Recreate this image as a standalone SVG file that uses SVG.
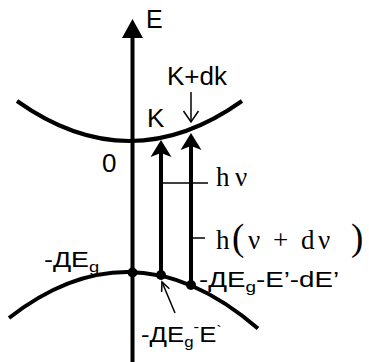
<svg xmlns="http://www.w3.org/2000/svg" width="369" height="362" viewBox="0 0 369 362">
<style>
.thick{fill:none;stroke:#000;stroke-width:4}
.thin{fill:none;stroke:#000;stroke-width:1.5}
.sans{font-family:"Liberation Sans",Arial,sans-serif;fill:#000}
.serif{font-family:"Liberation Serif","Times New Roman",serif;fill:#000}
</style>
<rect width="369" height="362" fill="#fff"/>
<g id="axis">
<line class="thick" x1="132.5" y1="36" x2="132.5" y2="362"/>
<polygon points="132.5,19 122,38 143,38" fill="#000"/>
<text class="sans" x="146" y="28" font-size="25">E</text>
</g>
<g id="conduction-band">
<path class="thick" d="M17,101 Q129.5,181 242,101"/>
</g>
<g id="valence-band">
<path class="thick" d="M9,318 Q133.5,221 258,328.6"/>
<circle cx="132.5" cy="272.5" r="5"/>
<circle cx="161" cy="275" r="5"/>
<circle cx="191" cy="285" r="5"/>
</g>
<g id="connectors">
<line class="thick" x1="161" y1="275" x2="161" y2="152"/>
<polygon points="161,140 150.5,157 161,153 171.5,157" fill="#000"/>
<line class="thick" x1="191" y1="285" x2="191" y2="145"/>
<polygon points="191,133 180.5,150 191,146 201.5,150" fill="#000"/>
<line class="thin" x1="161" y1="183" x2="208" y2="183"/>
<line class="thin" x1="191" y1="238" x2="205" y2="238"/>
<line class="thin" x1="191" y1="92" x2="191" y2="122"/>
<polyline class="thin" points="183.5,111 191,122 198.5,111"/>
<line class="thin" x1="175" y1="313" x2="162" y2="282"/>
<polyline class="thin" points="161.6,292 162,282 169.4,288.7"/>
</g>
<g id="label-K">
<text class="sans" x="147" y="127" font-size="26">K</text>
</g>
<g id="label-Kdk">
<text class="sans" x="167" y="85" font-size="26">K+dk</text>
</g>
<g id="label-zero">
<text class="sans" x="102" y="172" font-size="26">0</text>
</g>
<g id="label-hv">
<text class="serif" y="186" font-size="27"><tspan x="216">h</tspan><tspan x="235">ν</tspan></text>
</g>
<g id="label-hvdv">
<text class="serif" y="249" font-size="27"><tspan x="216">h</tspan><tspan x="248">ν</tspan><tspan x="273">+</tspan><tspan x="301">d</tspan><tspan x="318">ν</tspan></text>
<text class="serif" y="250" font-size="37"><tspan x="232">(</tspan><tspan x="351">)</tspan></text>
</g>
<g id="label-Eg">
<text class="sans" font-size="22" transform="translate(44,267) scale(1.22,1)">-ДE<tspan font-size="15" dy="5">g</tspan></text>
</g>
<g id="label-Eg-E-dE">
<text class="sans" font-size="22" transform="translate(199,287) scale(1.26,1)">-ДE<tspan font-size="15" dy="5">g</tspan><tspan dy="-5">-E’-dE’</tspan></text>
</g>
<g id="label-Eg-E">
<text class="sans" font-size="23" transform="translate(141,342) scale(1.12,1)">-ДE<tspan font-size="15" dy="5">g</tspan><tspan font-size="15" dy="-15">-</tspan><tspan dy="10">E</tspan><tspan font-size="15" dy="-6">`</tspan></text>
</g>
</svg>
